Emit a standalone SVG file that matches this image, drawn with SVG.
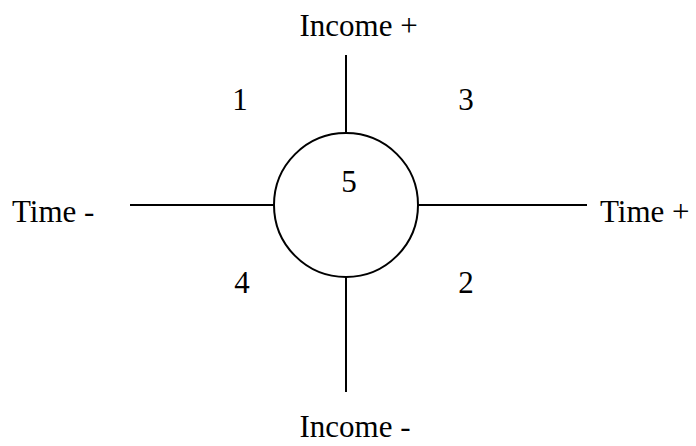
<svg xmlns="http://www.w3.org/2000/svg" width="696" height="446" viewBox="0 0 696 446">
<style>
.t{font-family:"Liberation Serif","Times New Roman",serif;font-size:31px;fill:#000}
.ln{stroke:#000;stroke-width:2;fill:none}
</style>
<rect width="696" height="446" fill="#fff"/>
<g id="connectors">
<line class="ln" x1="346" y1="55" x2="346" y2="133"/>
<line class="ln" x1="346" y1="277" x2="346" y2="392"/>
<line class="ln" x1="130" y1="205" x2="274" y2="205"/>
<line class="ln" x1="418" y1="205" x2="587" y2="205"/>
</g>
<g id="center">
<circle class="ln" cx="346" cy="205" r="72"/>
<text class="t" x="349" y="192" text-anchor="middle">5</text>
</g>
<g id="income-plus"><text class="t" x="299.5" y="36">Income +</text></g>
<g id="income-minus"><text class="t" x="299.5" y="437">Income -</text></g>
<g id="time-minus"><text class="t" x="12" y="221.5">Time -</text></g>
<g id="time-plus"><text class="t" x="600" y="221.5">Time +</text></g>
<g id="q1"><text class="t" x="240" y="110" text-anchor="middle">1</text></g>
<g id="q3"><text class="t" x="466" y="110" text-anchor="middle">3</text></g>
<g id="q4"><text class="t" x="242" y="293" text-anchor="middle">4</text></g>
<g id="q2"><text class="t" x="466" y="293" text-anchor="middle">2</text></g>
</svg>
